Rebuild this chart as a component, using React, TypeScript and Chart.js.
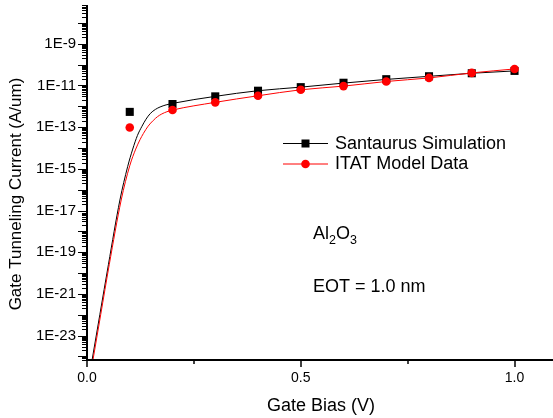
import React, { useEffect, useRef } from 'react';
import { Chart, registerables } from 'chart.js';

Chart.register(...registerables);

const FONT = '"Liberation Sans", Arial, Helvetica, sans-serif';

// Simulation / model points (Gate bias in V, current in A/um)
const gateBias = [0.1, 0.2, 0.3, 0.4, 0.5, 0.6, 0.7, 0.8, 0.9, 1.0];
const santaurusCurrent = [5.4e-13, 1.29e-12, 3.0e-12, 5.6e-12, 8.3e-12, 1.35e-11, 2.0e-11, 2.77e-11, 3.85e-11, 5.0e-11];
const itatCurrent = [9.7e-14, 6.7e-13, 1.55e-12, 3.2e-12, 6.2e-12, 9.3e-12, 1.55e-11, 2.3e-11, 4.0e-11, 6.2e-11];

// Smooth curves
const santaurusCurveBias = [0.01, 0.03, 0.05, 0.077, 0.095, 0.107, 0.118, 0.128, 0.138, 0.148, 0.16, 0.171, 0.185, 0.2, 0.3, 0.4, 0.5, 0.6, 0.7, 0.8, 0.9, 1.0];
const santaurusCurveCurrent = [4.0e-25, 1.0e-22, 2.5e-20, 3.2e-17, 1.26e-15, 8.9e-15, 4.0e-14, 1.05e-13, 2.4e-13, 4.5e-13, 7.1e-13, 9.3e-13, 1.17e-12, 1.38e-12, 3.0e-12, 5.6e-12, 8.3e-12, 1.3e-11, 1.95e-11, 2.75e-11, 3.85e-11, 5.0e-11];
const itatCurveBias = [0.012, 0.032, 0.052, 0.08, 0.1, 0.114, 0.124, 0.132, 0.143, 0.155, 0.165, 0.175, 0.187, 0.2, 0.3, 0.4, 0.5, 0.6, 0.7, 0.8, 0.9, 1.0];
const itatCurveCurrent = [4.0e-25, 1.0e-22, 2.5e-20, 3.2e-17, 1.41e-15, 8.9e-15, 2.5e-14, 5.0e-14, 1.12e-13, 2.1e-13, 3.2e-13, 4.3e-13, 5.5e-13, 6.6e-13, 1.55e-12, 3.2e-12, 6.2e-12, 9.3e-12, 1.55e-11, 2.3e-11, 4.0e-11, 6.2e-11];

const seriesNames = ['Santaurus Simulation', 'ITAT Model Data'];
const seriesColors = ['#000000', '#ff0000'];

const xTickValues = [0, 0.5, 1.0];
const xTickLabels = ['0.0', '0.5', '1.0'];
const xMinorTickValues = [0.25, 0.75];
const yTickValues = [1e-23, 1e-21, 1e-19, 1e-17, 1e-15, 1e-13, 1e-11, 1e-9];
const yTickLabels = ['1E-23', '1E-21', '1E-19', '1E-17', '1E-15', '1E-13', '1E-11', '1E-9'];
const yDecadeRange = [-25, -7];

const xMin = 0;
const xMax = 1.09;
const yMin = Math.pow(10, -24.17);
const yMax = Math.pow(10, -7.14);

const xTitle = 'Gate Bias (V)';
const yTitle = 'Gate Tunneling Current (A/um)';
const oxideBase = ['Al', '2', 'O', '3'];
const eotText = 'EOT = 1.0 nm';

const decorations = {
  id: 'decorations',
  afterDraw(chart: any) {
    const { ctx, chartArea: ca, scales } = chart;
    const x = scales.x;
    const y = scales.y;
    ctx.save();
    ctx.strokeStyle = '#000';
    ctx.fillStyle = '#000';

    // y ticks
    ctx.lineWidth = 1;
    for (let e = yDecadeRange[0]; e <= yDecadeRange[1]; e++) {
      for (let k = 1; k <= 9; k++) {
        const v = k * Math.pow(10, e);
        if (v < yMin || v > yMax) continue;
        const py = Math.round(y.getPixelForValue(v)) + 0.5;
        const len = k === 1 ? 9 : 5;
        ctx.beginPath();
        ctx.moveTo(ca.left - len, py);
        ctx.lineTo(ca.left, py);
        ctx.stroke();
      }
    }
    // x ticks
    ctx.lineWidth = 1.5;
    xTickValues.forEach((v) => {
      const px = Math.round(x.getPixelForValue(v));
      ctx.beginPath();
      ctx.moveTo(px, ca.bottom);
      ctx.lineTo(px, ca.bottom + 7);
      ctx.stroke();
    });
    xMinorTickValues.forEach((v) => {
      const px = Math.round(x.getPixelForValue(v));
      ctx.beginPath();
      ctx.moveTo(px, ca.bottom);
      ctx.lineTo(px, ca.bottom + 4);
      ctx.stroke();
    });

    // axis lines
    ctx.lineWidth = 2;
    ctx.beginPath();
    ctx.moveTo(ca.left, ca.top);
    ctx.lineTo(ca.left, ca.bottom + 1);
    ctx.moveTo(ca.left - 1, ca.bottom);
    ctx.lineTo(ca.right, ca.bottom);
    ctx.stroke();

    // axis titles
    ctx.textBaseline = 'alphabetic';
    ctx.font = `18px ${FONT}`;
    ctx.textAlign = 'center';
    ctx.fillText(xTitle, (ca.left + ca.right) / 2 + 1, ca.bottom + 51);
    ctx.save();
    ctx.translate(21, ca.top + 189);
    ctx.rotate(-Math.PI / 2);
    ctx.font = `17px ${FONT}`;
    ctx.fillText(yTitle, 0, 0);
    ctx.restore();

    // legend
    const lx = ca.left + 196;
    const rows = [ca.top + 138, ca.top + 158.5];
    ctx.textAlign = 'left';
    ctx.font = `18px ${FONT}`;
    rows.forEach((ry, i) => {
      ctx.strokeStyle = seriesColors[i];
      ctx.fillStyle = seriesColors[i];
      ctx.lineWidth = 1;
      ctx.beginPath();
      ctx.moveTo(lx, ry + 0.5);
      ctx.lineTo(lx + 45, ry + 0.5);
      ctx.stroke();
      const cx = lx + 22.5;
      if (i === 0) {
        ctx.fillRect(cx - 4, ry - 3.5, 8, 8);
      } else {
        ctx.beginPath();
        ctx.arc(cx, ry + 0.5, 4.3, 0, Math.PI * 2);
        ctx.fill();
      }
      ctx.fillStyle = '#000';
      ctx.fillText(seriesNames[i], lx + 52, ry + 5.8);
    });

    // annotations
    const ax = ca.left + 226;
    let cx = ax;
    const base = ca.top + 234;
    oxideBase.forEach((s, i) => {
      const sub = i % 2 === 1;
      ctx.font = sub ? `12.5px ${FONT}` : `18px ${FONT}`;
      ctx.fillText(s, cx, sub ? base + 5 : base);
      cx += ctx.measureText(s).width;
    });
    ctx.font = `18px ${FONT}`;
    ctx.fillText(eotText, ax, ca.top + 286.7);

    ctx.restore();
  },
};

export default function App() {
  const ref = useRef<HTMLCanvasElement>(null);
  useEffect(() => {
    if (!ref.current) return;
    const toPts = (xs: number[], ys: number[]) => xs.map((v, i) => ({ x: v, y: ys[i] }));
    const chart = new Chart(ref.current, {
      type: 'scatter',
      data: {
        datasets: [
          {
            label: seriesNames[1],
            data: toPts(gateBias, itatCurrent),
            showLine: false,
            pointStyle: 'circle',
            pointRadius: 4.3,
            backgroundColor: seriesColors[1],
            borderColor: seriesColors[1],
            borderWidth: 0,
          },
          {
            label: seriesNames[0],
            data: toPts(gateBias, santaurusCurrent),
            showLine: false,
            pointStyle: 'rect',
            pointRadius: 5.7,
            backgroundColor: seriesColors[0],
            borderColor: seriesColors[0],
            borderWidth: 0,
          },
          {
            label: seriesNames[1] + ' curve',
            data: toPts(itatCurveBias, itatCurveCurrent),
            showLine: true,
            pointRadius: 0,
            borderColor: seriesColors[1],
            borderWidth: 1,
            cubicInterpolationMode: 'monotone',
          },
          {
            label: seriesNames[0] + ' curve',
            data: toPts(santaurusCurveBias, santaurusCurveCurrent),
            showLine: true,
            pointRadius: 0,
            borderColor: seriesColors[0],
            borderWidth: 1,
            cubicInterpolationMode: 'monotone',
          },
        ],
      } as any,
      options: {
        animation: false,
        responsive: false,
        layout: { autoPadding: false, padding: { top: 5, left: 0, right: 0, bottom: 0 } },
        plugins: { legend: { display: false }, tooltip: { enabled: false } },
        scales: {
          x: {
            type: 'linear',
            min: xMin,
            max: xMax,
            grid: { display: false, drawTicks: false },
            border: { display: false },
            afterBuildTicks: (s: any) => {
              s.ticks = xTickValues.map((v) => ({ value: v }));
            },
            afterFit: (s: any) => {
              s.height = 58;
              s.paddingLeft = 0;
              s.paddingRight = 0;
            },
            ticks: {
              autoSkip: false,
              maxRotation: 0,
              padding: 10,
              color: '#000',
              font: { family: FONT, size: 14 },
              callback: (v: any) => {
                const i = xTickValues.indexOf(Number(v));
                return i >= 0 ? xTickLabels[i] : '';
              },
            },
          },
          y: {
            type: 'logarithmic',
            min: yMin,
            max: yMax,
            grid: { display: false, drawTicks: false },
            border: { display: false },
            afterBuildTicks: (s: any) => {
              s.ticks = yTickValues.map((v) => ({ value: v }));
            },
            afterFit: (s: any) => {
              s.width = 87;
              s.paddingTop = 0;
              s.paddingBottom = 0;
            },
            ticks: {
              autoSkip: false,
              padding: 11,
              color: '#000',
              font: { family: FONT, size: 15 },
              callback: (v: any) => {
                const i = yTickValues.findIndex((t) => Math.abs(Math.log10(t) - Math.log10(Number(v))) < 1e-6);
                return i >= 0 ? yTickLabels[i] : '';
              },
            },
          },
        },
      } as any,
      plugins: [decorations],
    });
    return () => chart.destroy();
  }, []);
  return (
    <canvas
      ref={ref}
      width={553}
      height={418}
      style={{ position: 'absolute', left: 0, top: 0, width: 553, height: 418 }}
    />
  );
}
